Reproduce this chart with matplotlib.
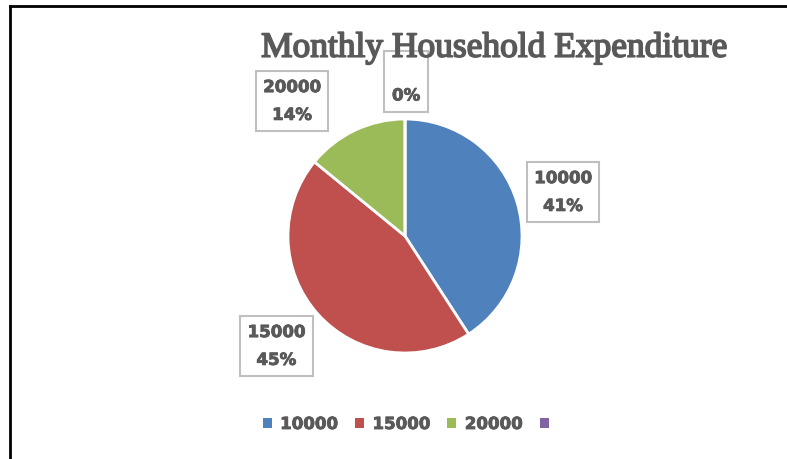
import matplotlib
matplotlib.use("Agg")
import matplotlib.pyplot as plt
import matplotlib.patheffects as pe
from matplotlib.patches import Patch
from matplotlib.lines import Line2D

# ----- data -----
categories = ["10000", "15000", "20000", ""]
counts = [29, 32, 10, 0]
colors = ["#4F81BD", "#C0504D", "#9BBB59", "#8064A2"]

# label box spots (pie radius units), tuned by eye
label_pos = [(1.35, 0.376), (-1.10, -0.94), (-0.966, 1.154), (0.009, 1.32)]

W, H = 787, 460
fig = plt.figure(figsize=(W / 100, H / 100), dpi=100)

# pie area: centre (405, 237) px, radius 117 px
cx, cy, r = 405, 237, 117
ax = fig.add_axes([(cx - r) / W, (H - cy - r) / H, 2 * r / W, 2 * r / H])

wedges, _ = ax.pie(counts, colors=colors, startangle=90, counterclock=False,
                   radius=1, wedgeprops=dict(edgecolor="white", linewidth=2))
ax.set_xlim(-1, 1)
ax.set_ylim(-1, 1)

total = sum(counts)
txt_col = "#595959"
thick = [pe.withStroke(linewidth=0.6, foreground=txt_col)]
for i, (cat, v) in enumerate(zip(categories, counts)):
    pct = f"{round(100 * v / total)}%"
    s = f"{cat}\n{pct}"
    x, y = label_pos[i]
    ax.text(x, y, s, ha="center", va="center", fontsize=12, fontweight="bold",
            color=txt_col, linespacing=1.7, clip_on=False, path_effects=thick,
            bbox=dict(boxstyle="square,pad=0.45", fc="white", ec="#BFBFBF", lw=1.5))

fig.text(494 / W, 1 - 49 / H, "Monthly Household Expenditure", ha="center", va="center",
         fontsize=25.5, family="Liberation Serif", color=txt_col,
         path_effects=[pe.withStroke(linewidth=1.2, foreground=txt_col)])

handles = [Patch(facecolor=c, edgecolor="none") for c in colors]
leg = fig.legend(handles, categories, loc="center", bbox_to_anchor=(410 / W, 1 - 425 / H),
                 ncol=4, frameon=False, handlelength=0.54, handleheight=0.54,
                 handletextpad=0.5, columnspacing=1.05,
                 prop=dict(size=12, weight="bold"))
for t in leg.get_texts():
    t.set_color(txt_col)
    t.set_path_effects(thick)

# page frame lines (left and top)
fig.add_artist(Line2D([10 / W, 10 / W], [0, 1 - 7 / H], transform=fig.transFigure,
                      color="black", lw=2))
fig.add_artist(Line2D([10 / W, 1], [1 - 7 / H, 1 - 7 / H], transform=fig.transFigure,
                      color="black", lw=2))

fig.savefig("out.png", dpi=100)
